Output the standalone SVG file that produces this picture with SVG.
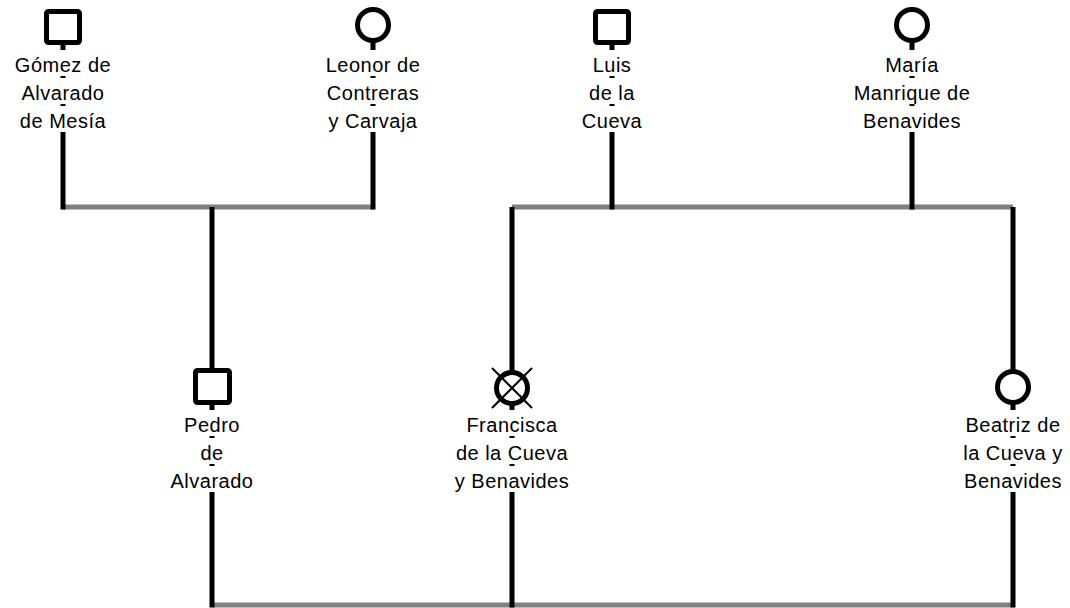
<svg xmlns="http://www.w3.org/2000/svg" width="1070" height="608" viewBox="0 0 1070 608">
<style>
.v{stroke:#000;stroke-width:5;fill:none}
.h{stroke:#808080;stroke-width:5;fill:none}
.sym{stroke:#000;stroke-width:5;fill:#fff}
.x{stroke:#000;stroke-width:2}
.bg{fill:#fff}
text{font-family:"Liberation Sans",Arial,sans-serif;font-size:20px;letter-spacing:0.5px;text-anchor:middle;fill:#000}
</style>
<rect width="1070" height="608" fill="#fff"/>
<g id="connectors">
<path class="h" d="M63 207H373M512 207H1013M212 605H1013"/>
<path class="v" d="M63 27V209.5M373 25V209.5M612 27V209.5M912 25V209.5M212 207V607.5M512 207V607.5M1013 207V607.5"/>
</g>
<g id="gomez">
<rect class="sym" x="46.5" y="11.5" width="33" height="31" rx="2"/>
<rect class="bg" x="13" y="50" width="100" height="26"/><text x="63" y="72">Gómez de</text>
<rect class="bg" x="20" y="78" width="87" height="26"/><text x="63" y="100">Alvarado</text>
<rect class="bg" x="18" y="106" width="90" height="26"/><text x="63" y="128">de Mesía</text>
</g>
<g id="leonor">
<circle class="sym" cx="373" cy="25" r="15.5"/>
<rect class="bg" x="323" y="50" width="100" height="26"/><text x="373" y="72">Leonor de</text>
<rect class="bg" x="325" y="78" width="96" height="26"/><text x="373" y="100">Contreras</text>
<rect class="bg" x="326" y="106" width="93" height="26"/><text x="373" y="128">y Carvaja</text>
</g>
<g id="luis">
<rect class="sym" x="595.5" y="11.5" width="33" height="31" rx="2"/>
<rect class="bg" x="590" y="50" width="44" height="26"/><text x="612" y="72">Luis</text>
<rect class="bg" x="587" y="78" width="50" height="26"/><text x="612" y="100">de la</text>
<rect class="bg" x="580" y="106" width="64" height="26"/><text x="612" y="128">Cueva</text>
</g>
<g id="maria">
<circle class="sym" cx="912" cy="25" r="15.5"/>
<rect class="bg" x="883" y="50" width="58" height="26"/><text x="912" y="72">María</text>
<rect class="bg" x="852" y="78" width="120" height="26"/><text x="912" y="100">Manrique de</text>
<rect class="bg" x="861" y="106" width="101" height="26"/><text x="912" y="128">Benavides</text>
</g>
<g id="pedro">
<rect class="sym" x="195.5" y="370.5" width="34" height="32" rx="2"/>
<rect class="bg" x="182" y="410" width="60" height="26"/><text x="212" y="432">Pedro</text>
<rect class="bg" x="198" y="438" width="28" height="26"/><text x="212" y="460">de</text>
<rect class="bg" x="169" y="466" width="87" height="26"/><text x="212" y="488">Alvarado</text>
</g>
<g id="francisca">
<circle class="sym" cx="512" cy="388" r="15.5"/>
<path class="x" d="M492 368L532 408M532 368L492 408"/>
<rect class="bg" x="465" y="410" width="95" height="26"/><text x="512" y="432">Francisca</text>
<rect class="bg" x="454" y="438" width="116" height="26"/><text x="512" y="460">de la Cueva</text>
<rect class="bg" x="453" y="466" width="118" height="26"/><text x="512" y="488">y Benavides</text>
</g>
<g id="beatriz">
<circle class="sym" cx="1013" cy="387" r="15.5"/>
<rect class="bg" x="964" y="410" width="99" height="26"/><text x="1013" y="432">Beatriz de</text>
<rect class="bg" x="961" y="438" width="104" height="26"/><text x="1013" y="460">la Cueva y</text>
<rect class="bg" x="963" y="466" width="101" height="26"/><text x="1013" y="488">Benavides</text>
</g>
</svg>
